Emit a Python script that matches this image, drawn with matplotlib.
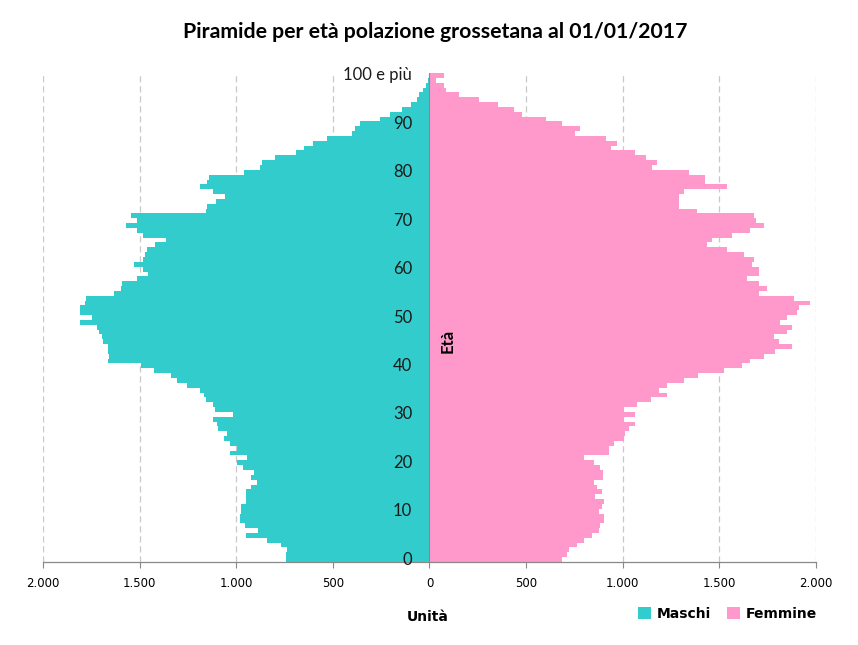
import matplotlib
matplotlib.use("Agg")
import matplotlib.pyplot as plt
from matplotlib.patches import Patch
from matplotlib.ticker import FuncFormatter, MultipleLocator

# età 0..100 (l'ultima classe è "100 e più")
eta = list(range(101))

maschi = [
    745, 745, 735, 770, 843, 950, 886, 955, 978, 978,
    975, 975, 947, 947, 947, 921, 895, 926, 907, 967,
    995, 943, 1030, 995, 1030, 1065, 1047, 1092, 1100, 1120,
    1016, 1112, 1120, 1154, 1169, 1185, 1254, 1306, 1340, 1428,
    1495, 1661, 1660, 1662, 1665, 1689, 1695, 1712, 1720, 1806,
    1745, 1806, 1806, 1780, 1775, 1635, 1595, 1590, 1516, 1454,
    1480, 1527, 1480, 1470, 1460, 1418, 1366, 1480, 1516, 1573,
    1516, 1547, 1159, 1150, 1107, 1056, 1118, 1185, 1150, 1143,
    962, 875, 866, 797, 693, 647, 602, 529, 400, 383,
    357, 254, 203, 141, 97, 66, 54, 36, 19, 10,
    5,
]

femmine = [
    687, 712, 721, 764, 799, 842, 877, 885, 902, 902,
    877, 894, 902, 859, 894, 868, 851, 899, 899, 885,
    851, 799, 928, 928, 954, 1006, 1014, 1031, 1066, 1006,
    1066, 1006, 1075, 1144, 1230, 1187, 1230, 1316, 1389, 1523,
    1618, 1661, 1730, 1790, 1877, 1807, 1782, 1851, 1877, 1816,
    1851, 1903, 1911, 1971, 1885, 1704, 1747, 1704, 1644, 1704,
    1704, 1670, 1678, 1626, 1540, 1437, 1463, 1566, 1661, 1730,
    1690, 1678, 1385, 1290, 1290, 1290, 1316, 1540, 1428, 1428,
    1342, 1152, 1178, 1118, 1066, 937, 971, 911, 755, 781,
    687, 605, 480, 436, 354, 254, 152, 85, 74, 36,
    74,
]

etichette_eta = {a: str(a) for a in range(0, 100, 10)}
etichette_eta[100] = "100 e più"

col_m = "#33CCCC"
col_f = "#FF99CC"
grigio = "#898989"

fig = plt.figure(figsize=(8.58, 6.45), dpi=100)
ax = fig.add_axes([0.0501, 0.1287, 0.9009, 0.7581])

ax.barh(eta, [-v for v in maschi], height=1.0, color=col_m, linewidth=0, zorder=2)
ax.barh(eta, femmine, height=1.0, color=col_f, linewidth=0, zorder=2)

ax.set_xlim(-2000, 2000)
ax.set_ylim(-0.5, 100.5)

ax.xaxis.set_major_locator(MultipleLocator(500))
ax.xaxis.set_major_formatter(FuncFormatter(lambda v, p: f"{abs(int(round(v))):,}".replace(",", ".")))
ax.tick_params(axis="x", length=4, width=0.8, color=grigio, pad=7, labelsize=8.5)
ax.set_yticks([])

for v in [-2000, -1500, -1000, -500, 500, 1000, 1500, 2000]:
    ax.axvline(v, color="#C8C8C8", linestyle=(0, (5, 3)), linewidth=0.9, zorder=1)
ax.axvline(0, color=grigio, linewidth=0.8, zorder=3)

for s in ["top", "right", "left"]:
    ax.spines[s].set_visible(False)
ax.spines["bottom"].set_color(grigio)
ax.spines["bottom"].set_linewidth(0.9)

for a, testo in etichette_eta.items():
    ax.annotate(testo, xy=(0, a), xytext=(-12.5, 0), textcoords="offset points",
                ha="right", va="center", fontsize=12, family="Lato", color="#1a1a1a", zorder=4)

ax.annotate("Età", xy=(0, 45.2), xytext=(13, 0), textcoords="offset points",
            ha="center", va="center", rotation=90, fontsize=12, family="Lato",
            fontweight="bold", zorder=4)

fig.text(0.507, 0.950, "Piramide per età polazione grossetana al 01/01/2017",
         ha="center", va="center", fontsize=15.3, family="Lato", fontweight="bold")
fig.text(0.498, 0.0434, "Unità", ha="center", va="center", fontsize=10, fontweight="bold")

maniglie = [Patch(facecolor=col_m, edgecolor="none", label="Maschi"),
            Patch(facecolor=col_f, edgecolor="none", label="Femmine")]
fig.legend(handles=maniglie, loc="center", bbox_to_anchor=(0.848, 0.048), ncol=2,
           frameon=False, prop={"weight": "bold", "size": 10},
           handlelength=0.9, handleheight=0.9, handletextpad=0.4, columnspacing=1.2)

plt.savefig("out.png", dpi=100)
